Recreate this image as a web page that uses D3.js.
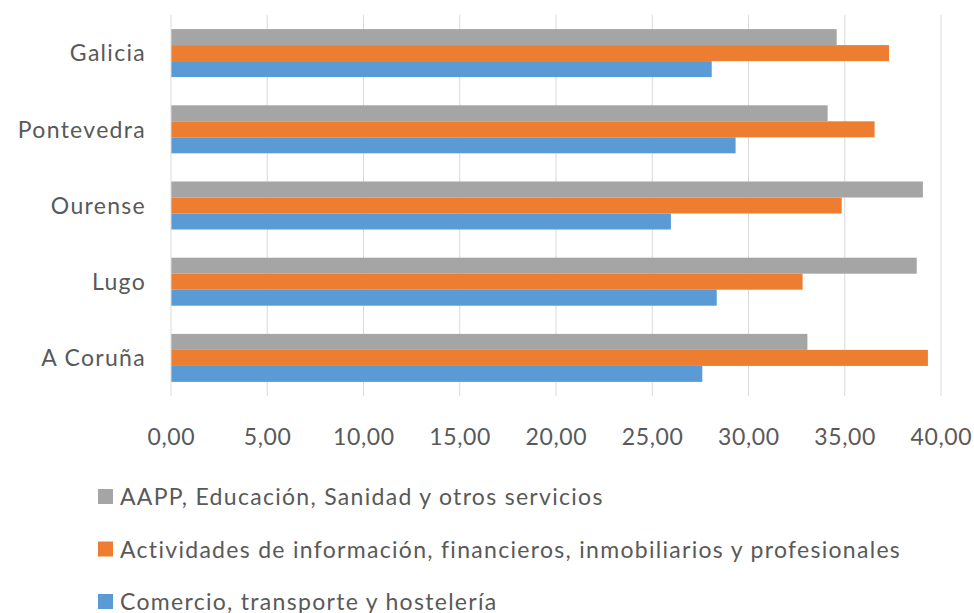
<!DOCTYPE html>
<html>
<head>
<meta charset="utf-8">
<script src="https://cdn.jsdelivr.net/npm/d3@7"></script>
<style>
  body { margin: 0; background: #fff; }
  text { font-family: Lato, "Open Sans", sans-serif; fill: #595959; }
</style>
</head>
<body>
<div id="chart"></div>
<script>
const categories = ['Galicia', 'Pontevedra', 'Ourense', 'Lugo', 'A Coruña']
const seriesNames = [
  'AAPP, Educación, Sanidad y otros servicios',
  'Actividades de información, financieros, inmobiliarios y profesionales',
  'Comercio, transporte y hostelería'
]
const aapp = [34.58, 34.11, 39.06, 38.74, 33.06]
const actividades = [37.30, 36.55, 34.84, 32.81, 39.32]
const comercio = [28.09, 29.33, 25.97, 28.35, 27.60]
const xTicks = [0, 5, 10, 15, 20, 25, 30, 35, 40]
const colors = ['#a5a5a5', '#ed7d31', '#5b9bd5']

const values = [aapp, actividades, comercio]

const width = 974, height = 613
const margin = { top: 15, right: 33, bottom: 217, left: 171 }
const innerWidth = width - margin.left - margin.right
const innerHeight = height - margin.top - margin.bottom

const svg = d3.select('#chart').append('svg')
  .attr('width', width)
  .attr('height', height)

const g = svg.append('g').attr('transform', `translate(${margin.left},${margin.top})`)

const x = d3.scaleLinear().domain([0, 40]).range([0, innerWidth])
const y = d3.scaleBand().domain(categories).range([0, innerHeight])
  .paddingInner(0.37).paddingOuter(0.185)
const ySub = d3.scaleBand().domain(d3.range(seriesNames.length)).range([0, y.bandwidth()])

// gridlines
g.selectAll('line.grid').data(xTicks.slice(1))
  .enter().append('line')
  .attr('class', 'grid')
  .attr('x1', d => x(d)).attr('x2', d => x(d))
  .attr('y1', 0).attr('y2', innerHeight)
  .attr('stroke', '#d9d9d9').attr('stroke-width', 1)

// bars
categories.forEach((c, i) => {
  g.selectAll(null).data(values)
    .enter().append('rect')
    .attr('x', x(0))
    .attr('y', (d, s) => y(c) + ySub(s))
    .attr('width', d => x(d[i]) - x(0))
    .attr('height', ySub.bandwidth())
    .attr('fill', (d, s) => colors[s])
})

// vertical axis line
g.append('line')
  .attr('x1', x(0)).attr('x2', x(0))
  .attr('y1', 0).attr('y2', innerHeight)
  .attr('stroke', '#d9d9d9').attr('stroke-width', 1)

// x tick labels
const fmt = d => d3.format('.2f')(d).replace('.', ',')
g.selectAll('text.xt').data(xTicks)
  .enter().append('text')
  .attr('class', 'xt')
  .attr('x', d => x(d) + 0.3)
  .attr('y', innerHeight + 49)
  .attr('text-anchor', 'middle')
  .attr('font-size', 23)
  .attr('letter-spacing', 0.6)
  .text(fmt)

// category labels
g.selectAll('text.cat').data(categories)
  .enter().append('text')
  .attr('class', 'cat')
  .attr('x', -25)
  .attr('y', d => y(d) + y.bandwidth() / 2)
  .attr('dy', '0.36em')
  .attr('text-anchor', 'end')
  .attr('font-size', 23)
  .attr('letter-spacing', 1.3)
  .text(d => d)

// legend
const legend = svg.append('g').attr('transform', 'translate(98,505)')
const item = legend.selectAll('g').data(seriesNames)
  .enter().append('g')
  .attr('transform', (d, i) => `translate(0,${i * 52.5})`)
item.append('rect')
  .attr('x', 0).attr('y', -16)
  .attr('width', 15).attr('height', 15)
  .attr('fill', (d, i) => colors[i])
item.append('text')
  .attr('x', 22)
  .attr('font-size', 23)
  .attr('letter-spacing', 1.3)
  .text(d => d)
</script>
</body>
</html>
